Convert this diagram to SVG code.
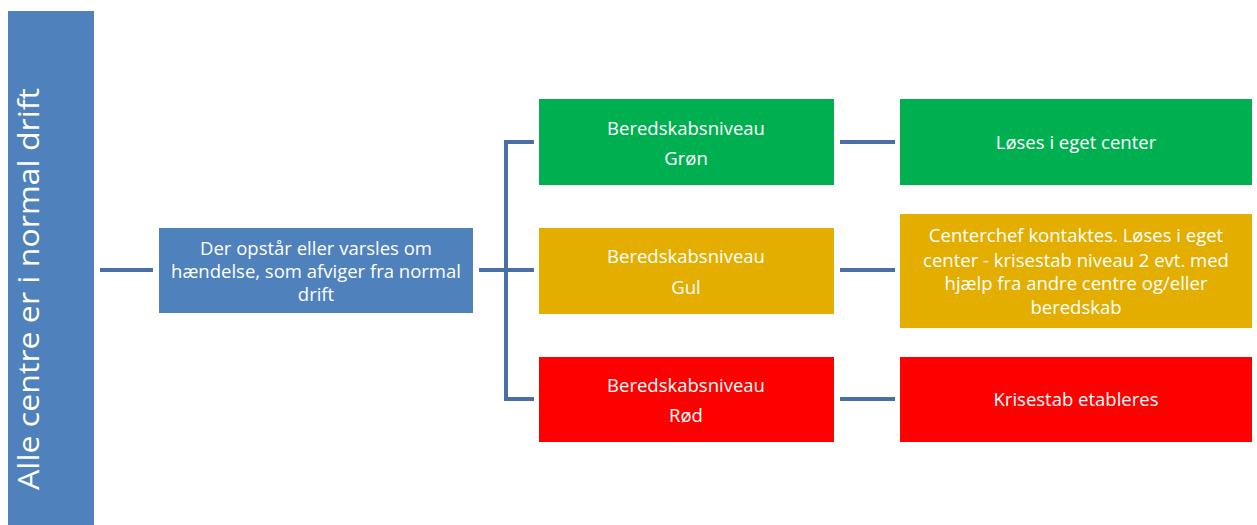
<svg xmlns="http://www.w3.org/2000/svg" width="1257" height="525" viewBox="0 0 1257 525">
<style>
.t{font-family:"Open Sans","Liberation Sans",Arial,sans-serif;fill:#fff;text-anchor:middle;dominant-baseline:central;font-size:18.5px}
.c{stroke:#4A6FA8;stroke-width:4;fill:none}
</style>
<rect width="1257" height="525" fill="#fff"/>
<g id="connectors">
<line class="c" x1="100" y1="270" x2="153" y2="270" stroke="#44679C"/>
<line class="c" x1="479" y1="270" x2="506" y2="270"/>
<polyline class="c" points="534,142 506,142 506,399 534,399"/>
<line class="c" x1="506" y1="270" x2="534" y2="270"/>
<line class="c" x1="840" y1="142" x2="895" y2="142"/>
<line class="c" x1="840" y1="270" x2="895" y2="270"/>
<line class="c" x1="840" y1="399" x2="895" y2="399"/>
</g>
<g id="bar">
<rect x="8" y="11" width="86" height="514" fill="#4F81BD"/>
<text class="t" transform="translate(27,490) rotate(-90)" style="text-anchor:start;font-size:30px" textLength="402" lengthAdjust="spacingAndGlyphs">Alle centre er i normal drift</text>
</g>
<g id="event">
<rect x="159" y="228" width="314" height="85" fill="#4F81BD"/>
<text class="t" x="316" y="247">Der opstår eller varsles om</text>
<text class="t" x="316" y="270">hændelse, som afviger fra normal</text>
<text class="t" x="316" y="293">drift</text>
</g>
<g id="green">
<rect x="539" y="99" width="295" height="86" fill="#00B050"/>
<text class="t" x="686" y="127">Beredskabsniveau</text>
<text class="t" x="686" y="157">Grøn</text>
</g>
<g id="yellow">
<rect x="539" y="228" width="295" height="86" fill="#E3AE00"/>
<text class="t" x="686" y="255">Beredskabsniveau</text>
<text class="t" x="686" y="286">Gul</text>
</g>
<g id="red">
<rect x="539" y="357" width="295" height="85" fill="#FF0000"/>
<text class="t" x="686" y="384">Beredskabsniveau</text>
<text class="t" x="686" y="414">Rød</text>
</g>
<g id="green-action">
<rect x="900" y="99" width="352" height="86" fill="#00B050"/>
<text class="t" x="1076" y="141">Løses i eget center</text>
</g>
<g id="yellow-action">
<rect x="900" y="214" width="352" height="114" fill="#E3AE00"/>
<text class="t" x="1076" y="234">Centerchef kontaktes. Løses i eget</text>
<text class="t" x="1076" y="259">center - krisestab niveau 2 evt. med</text>
<text class="t" x="1076" y="282">hjælp fra andre centre og/eller</text>
<text class="t" x="1076" y="306">beredskab</text>
</g>
<g id="red-action">
<rect x="900" y="357" width="352" height="85" fill="#FF0000"/>
<text class="t" x="1076" y="398">Krisestab etableres</text>
</g>
</svg>
